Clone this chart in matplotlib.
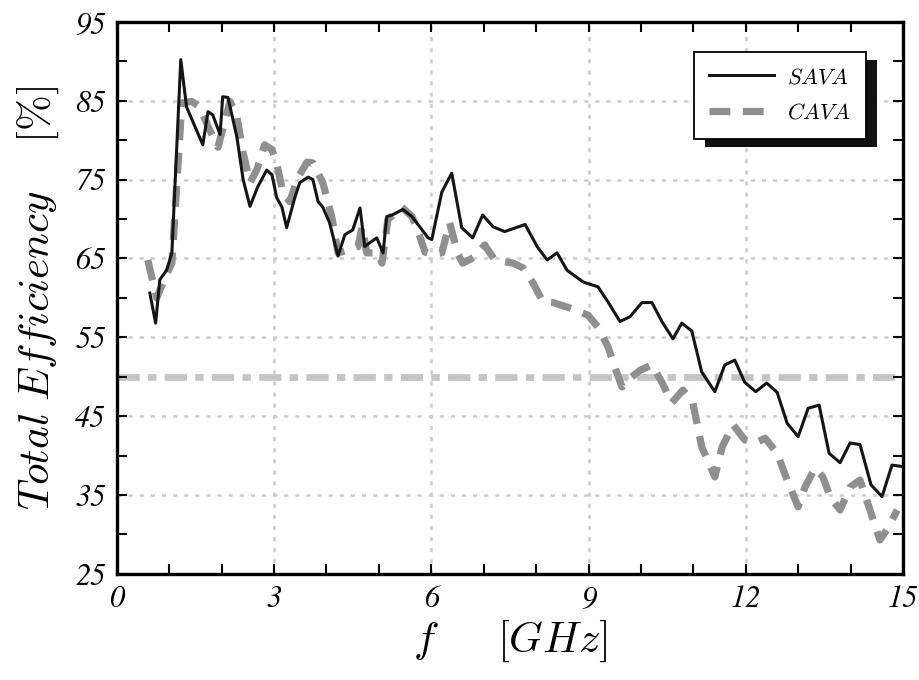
import matplotlib
matplotlib.use("Agg")
import matplotlib.pyplot as plt
from matplotlib.patches import Rectangle
import numpy as np

# total efficiency vs frequency, two antenna variants
sava_f = [0.63, 0.74, 0.82, 0.95, 1.05, 1.22, 1.33, 1.64, 1.74, 1.83, 1.97, 2.02, 2.12,
          2.29, 2.41, 2.54, 2.69, 2.86, 2.96, 3.05, 3.15, 3.24, 3.40, 3.49, 3.65, 3.74,
          3.84, 3.93, 4.06, 4.22, 4.35, 4.50, 4.64, 4.73, 4.83, 4.96, 5.08, 5.15, 5.25,
          5.46, 5.63, 5.78, 5.94, 6.01, 6.20, 6.39, 6.58, 6.79, 6.98, 7.18, 7.40, 7.79,
          8.02, 8.21, 8.40, 8.59, 8.90, 9.18, 9.37, 9.60, 9.79, 10.02, 10.21, 10.40,
          10.61, 10.78, 10.97, 11.16, 11.41, 11.60, 11.79, 11.98, 12.19, 12.40, 12.60,
          12.79, 13.00, 13.19, 13.40, 13.59, 13.80, 13.99, 14.18, 14.39, 14.60, 14.79, 15.0]
sava_eff = [60.6, 56.8, 62.3, 63.5, 65.7, 90.2, 84.2, 79.4, 83.6, 83.2, 80.7, 85.5, 85.4,
            80.4, 75.0, 71.6, 74.1, 76.2, 75.6, 72.7, 71.5, 68.9, 72.8, 74.6, 75.3, 75.0,
            72.2, 71.5, 69.5, 65.3, 68.0, 68.6, 71.4, 66.5, 67.0, 67.6, 65.7, 70.3, 70.5,
            71.2, 70.3, 69.0, 67.6, 67.4, 73.4, 75.8, 68.9, 67.6, 70.5, 69.0, 68.4, 69.3,
            66.5, 64.8, 65.7, 63.5, 62.0, 61.4, 59.5, 57.0, 57.6, 59.4, 59.4, 57.0,
            54.8, 56.8, 55.8, 50.6, 48.1, 51.5, 52.1, 49.3, 48.1, 49.2, 48.0,
            44.1, 42.4, 46.0, 46.4, 40.3, 39.1, 41.6, 41.4, 36.3, 34.8, 38.8, 38.6]

cava_f = [0.59, 0.76, 0.88, 1.05, 1.24, 1.43, 1.58, 1.77, 1.93, 2.16, 2.29, 2.41, 2.54,
          2.67, 2.82, 2.96, 3.05, 3.17, 3.30, 3.46, 3.63, 3.74, 3.93, 4.10, 4.22, 4.45,
          4.60, 4.68, 4.77, 4.98, 5.06, 5.17, 5.44, 5.63, 5.74, 5.88, 6.01, 6.20, 6.35,
          6.51, 6.60, 6.83, 7.02, 7.21, 7.56, 7.75, 7.94, 8.13, 8.32, 8.65, 8.99, 9.18,
          9.37, 9.54, 9.64, 9.79, 9.98, 10.21, 10.40, 10.59, 10.80, 10.99, 11.16, 11.41,
          11.55, 11.76, 11.98, 12.18, 12.37, 12.60, 12.79, 13.00, 13.13, 13.32, 13.47,
          13.61, 13.80, 13.99, 14.18, 14.37, 14.56, 14.71, 14.89]
cava_eff = [64.8, 60.0, 61.9, 64.4, 84.7, 84.9, 84.2, 81.3, 79.1, 84.9, 83.0, 78.4, 74.6,
            76.2, 79.4, 78.8, 77.1, 73.3, 72.2, 75.3, 77.2, 77.1, 74.6, 70.3, 65.7, 66.1,
            66.5, 69.0, 65.7, 65.7, 64.4, 69.9, 71.5, 70.3, 68.6, 65.8, 65.5, 65.7, 69.5,
            65.5, 64.4, 65.2, 66.7, 64.8, 64.4, 63.8, 61.9, 59.5, 59.4, 58.7, 57.8, 56.3,
            53.8, 50.5, 48.7, 49.8, 50.8, 51.5, 49.3, 46.7, 48.3, 46.7, 41.1, 37.3,
            41.1, 43.9, 42.0, 41.6, 42.2, 40.3, 36.9, 33.5, 36.0, 38.4, 37.3,
            34.8, 33.1, 36.0, 36.9, 33.1, 29.3, 30.8, 33.1]

threshold = 50
labels = ["$SAVA$", "$CAVA$"]

plt.rcParams["mathtext.fontset"] = "cm"
plt.rcParams["font.family"] = "STIXGeneral"
plt.rcParams["font.style"] = "italic"
plt.rcParams["lines.scale_dashes"] = False

fig = plt.figure(figsize=(9.2, 6.8), dpi=100)
ax = fig.add_axes([0.127, 0.156, 0.8545, 0.812])

ax.plot(sava_f, sava_eff, color="#151515", lw=2.2, label=labels[0], zorder=3)
ax.plot(cava_f, cava_eff, color="#8f8f91", lw=5.2, dashes=(15, 9), label=labels[1], zorder=2)
ax.axhline(threshold, color="#c4c4c4", lw=4.8, dashes=(16, 6, 6, 6), zorder=1.5)

ax.set_xlim(0, 15)
ax.set_ylim(25, 95)
ax.set_xticks(np.arange(0, 16, 3))
ax.set_xticks(np.arange(0, 16, 1), minor=True)
ax.set_yticks(np.arange(25, 96, 10))
ax.set_yticks(np.arange(25, 96, 5), minor=True)
ax.tick_params(which="both", direction="in", top=True, right=True, width=1.5, length=7)
ax.tick_params(which="major", labelsize=22, pad=8)
ax.grid(True, which="major", color="#cccccc", lw=1.8, dashes=(3, 5))

for s in ax.spines.values():
    s.set_linewidth(2.4)

ax.set_xlabel(r"$f\ \ \ \ \ [GHz]$", fontsize=31, labelpad=4)
ax.set_ylabel(r"$Total\ Efficiency\ \ \ \ [\%]$", fontsize=31, labelpad=10)

leg = ax.legend(loc="upper right", bbox_to_anchor=(0.953, 0.946), fontsize=16,
                fancybox=False, framealpha=1, edgecolor="black", handlelength=2.9,
                handletextpad=0.6, labelspacing=0.65, borderpad=0.7, borderaxespad=0)
leg.get_frame().set_linewidth(1.3)
leg.set_zorder(6)

# solid black drop shadow behind the legend box
fig.canvas.draw()
bb = leg.get_window_extent().transformed(fig.transFigure.inverted())
shadow = Rectangle((bb.x0 + 11 / 920, bb.y0 - 8 / 680), bb.width, bb.height,
                   transform=fig.transFigure, facecolor="#111111", edgecolor="none",
                   zorder=5.5, clip_on=False)
ax.add_patch(shadow)
ax.set_xlim(0, 15)
ax.set_ylim(25, 95)

fig.savefig("out.png", dpi=100)
